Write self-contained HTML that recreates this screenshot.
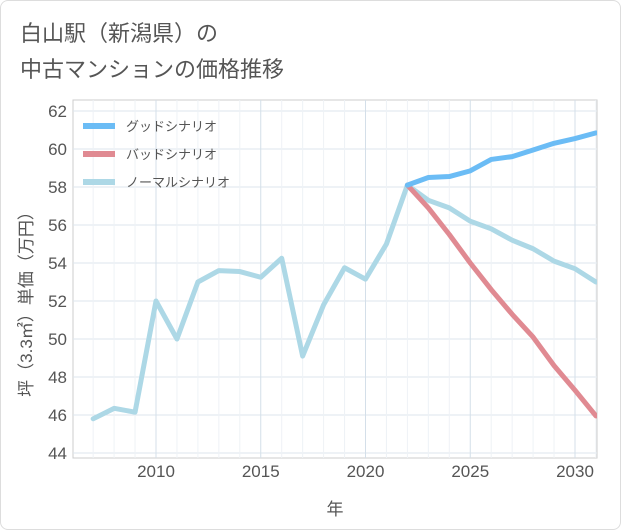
<!DOCTYPE html>
<html><head><meta charset="utf-8">
<style>
html,body{margin:0;padding:0;background:#fff;}
body{width:621px;height:530px;overflow:hidden;font-family:"Liberation Sans","Noto Sans CJK JP",sans-serif;}
.frame{position:absolute;left:0;top:0;width:619px;height:528px;border:1px solid #ddd;border-radius:8px;}
.title{position:absolute;left:20px;top:16px;font-size:22px;line-height:36px;color:#555;}
</style></head><body>
<div class="frame"></div>
<div class="title">白山駅（新潟県）の<br>中古マンションの価格推移</div>
<svg id="chart" width="621" height="530" style="position:absolute;left:0;top:0"></svg>
<script>
const years=[2007,2008,2009,2010,2011,2012,2013,2014,2015,2016,2017,2018,2019,2020,2021,2022,2023,2024,2025,2026,2027,2028,2029,2030,2031];
const normalVals=[45.8,46.35,46.15,52.0,50.0,53.0,53.6,53.55,53.25,54.25,49.1,51.8,53.75,53.15,55.0,58.1,57.3,56.9,56.2,55.8,55.2,54.75,54.1,53.7,53.0];
const futureYears=[2022,2023,2024,2025,2026,2027,2028,2029,2030,2031];
const goodVals=[58.1,58.5,58.55,58.85,59.45,59.6,59.95,60.3,60.55,60.85];
const badVals=[58.1,56.9,55.5,54.0,52.6,51.3,50.1,48.6,47.3,45.95];
const yTicks=[44,46,48,50,52,54,56,58,60,62];
const xTicks=[2010,2015,2020,2025,2030];
const legendLabels=["グッドシナリオ","バッドシナリオ","ノーマルシナリオ"];

const svg=document.getElementById('chart');
const NS='http://www.w3.org/2000/svg';
const L=73,R=597,T=100,B=458;
const x=v=>156+(v-2010)*(575-156)/20;
const y=v=>453-(v-44)*19;
function mk(tag,attrs){const e=document.createElementNS(NS,tag);for(const k in attrs)e.setAttribute(k,attrs[k]);svg.appendChild(e);return e;}

const bg=mk('rect',{x:L,y:T,width:R-L,height:B-T,fill:'#fff',stroke:'#ccc'});


for(const t of yTicks){
  const g=mk('line',{x1:L,x2:R,y1:y(t),y2:y(t),stroke:'#dde6ee'});
  
  
  const tx=mk('text',{x:L-6,y:y(t)+6,'text-anchor':'end','font-size':17,fill:'#555'});
  tx.textContent=t;
  
  
}
for(let yr=2007;yr<=2031;yr++){
  const g=mk('line',{x1:x(yr),x2:x(yr),y1:T,y2:B,stroke:xTicks.includes(yr)?'#d4dfe9':'#eef2f6'});
  
  
}
for(const t of xTicks){
  const tx=mk('text',{x:x(t),y:477,'text-anchor':'middle','font-size':17,fill:'#555'});
  tx.textContent=t;
  
  
}
const xt=mk('text',{x:335,y:515,'text-anchor':'middle','font-size':17,fill:'#555'});
xt.textContent='年';


const yt=mk('text',{x:0,y:0,'text-anchor':'middle','font-size':17,fill:'#555',transform:'translate(32,300) rotate(-90)'});
yt.textContent='坪（3.3㎡）単価（万円）';



function line(xs,vs,color,name){
  const p=mk('polyline',{points:xs.map((a,i)=>x(a)+','+y(vs[i])).join(' '),fill:'none',stroke:color,'stroke-width':5,'stroke-linejoin':'round','stroke-linecap':'round'});
  
  
}
const clip=mk('clipPath',{id:'c'});
const cr=document.createElementNS(NS,'rect');
cr.setAttribute('x',L);cr.setAttribute('y',T);cr.setAttribute('width',R-L);cr.setAttribute('height',B-T);
clip.appendChild(cr);
line(years,normalVals,'#add8e6','normal-scenario-line');
line(futureYears,badVals,'#e08a92','bad-scenario-line');
line(futureYears,goodVals,'#6bbcf5','good-scenario-line');
svg.querySelectorAll('polyline').forEach(p=>p.setAttribute('clip-path','url(#c)'));

const colors=['#6bbcf5','#e08a92','#add8e6'];
legendLabels.forEach((lab,i)=>{
  const ly=126+i*28;
  const l=mk('line',{x1:83,x2:115,y1:ly,y2:ly,stroke:colors[i],'stroke-width':6});
  
  
  const t=mk('text',{x:126,y:ly+5,'font-size':13,fill:'#555'});
  t.textContent=lab;
  
  
});
</script>
</body></html>
